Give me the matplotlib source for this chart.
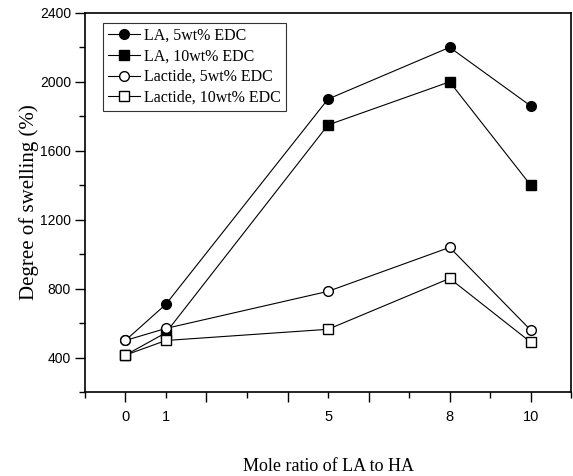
import matplotlib
matplotlib.use('Agg')
import matplotlib.pyplot as plt
from matplotlib.ticker import MultipleLocator

# mole ratio of LA to HA
ratio = [0, 1, 5, 8, 10]
# degree of swelling (%)
la_5 = [500, 710, 1900, 2200, 1860]
la_10 = [415, 545, 1750, 2000, 1400]
lactide_5 = [500, 570, 785, 1040, 560]
lactide_10 = [415, 500, 565, 860, 490]

serif = 'Liberation Serif'
sans = 'Liberation Sans'

fig = plt.figure(figsize=(5.73, 4.76), dpi=100)
ax = fig.add_axes([0.148, 0.176, 0.849, 0.797])

ax.plot(ratio, la_5, '-o', color='black', lw=0.8, ms=7, mfc='black', label='LA, 5wt% EDC')
ax.plot(ratio, la_10, '-s', color='black', lw=0.8, ms=6.5, mfc='black', label='LA, 10wt% EDC')
ax.plot(ratio, lactide_5, '-o', color='black', lw=0.8, ms=7, mfc='white', label='Lactide, 5wt% EDC')
ax.plot(ratio, lactide_10, '-s', color='black', lw=0.8, ms=6.5, mfc='white', label='Lactide, 10wt% EDC')

ax.set_xlim(-1, 11)
ax.set_ylim(200, 2400)

# ticks: majors on even numbers, minors on odd, labels only at data points
ax.xaxis.set_major_locator(MultipleLocator(2))
ax.xaxis.set_minor_locator(MultipleLocator(1))
ax.set_xticklabels(['' if t not in ratio else str(int(t)) for t in ax.get_xticks()])
ax.set_xticklabels(['' if t not in ratio else str(int(t)) for t in ax.xaxis.get_minorticklocs()], minor=True)
ax.yaxis.set_major_locator(MultipleLocator(400))
ax.yaxis.set_minor_locator(MultipleLocator(200))

ax.tick_params(axis='x', which='major', direction='out', length=7, width=1, pad=6, labelsize=10.5)
ax.tick_params(axis='x', which='minor', direction='out', length=4, width=1, pad=9, labelsize=10.5)
ax.tick_params(axis='y', which='major', direction='out', length=7, width=1, pad=3, labelsize=10)
ax.tick_params(axis='y', which='minor', direction='out', length=4, width=1)
for lab in ax.get_xticklabels(which='both') + ax.get_yticklabels():
    lab.set_fontfamily(sans)

for sp in ax.spines.values():
    sp.set_linewidth(1.2)

ax.set_xlabel('Mole ratio of LA to HA', fontfamily=serif, fontsize=13, labelpad=24)
ax.set_ylabel('Degree of swelling (%)', fontfamily=serif, fontsize=15)
ax.yaxis.set_label_coords(-0.095, 0.5)

leg = ax.legend(loc='upper left', bbox_to_anchor=(0.037, 0.974), prop={'family': serif, 'size': 11.5},
                frameon=True, fancybox=False, edgecolor='black', handlelength=2.0,
                handletextpad=0.3, borderpad=0.3, labelspacing=0.3, borderaxespad=0)
leg.get_frame().set_linewidth(0.8)

plt.savefig('out.png', dpi=100)
